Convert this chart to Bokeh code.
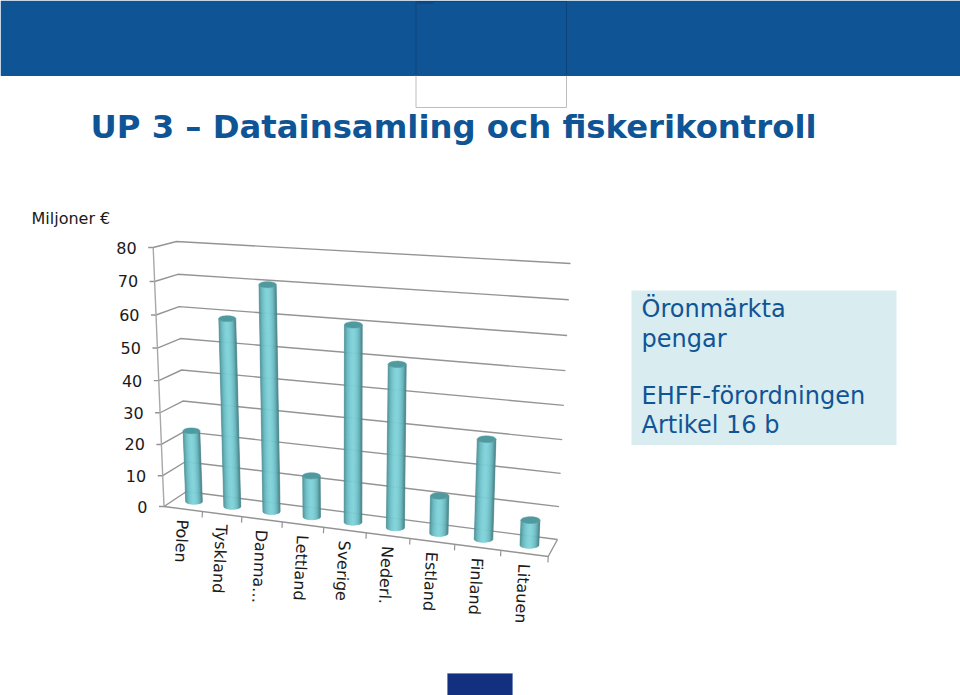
import numpy as np
from bokeh.plotting import figure
from bokeh.models import Range1d, Label
from bokeh.core.properties import value
from bokeh.embed import file_html
from bokeh.resources import INLINE

categories = ["Polen", "Tyskland", "Danma...", "Lettland", "Sverige", "Nederl.", "Estland", "Finland", "Litauen"]
values = [23, 59, 70, 13, 60, 49.5, 11.5, 30, 7.5]
tick_values = [0, 10, 20, 30, 40, 50, 60, 70, 80]
tick_labels = ["0", "10", "20", "30", "40", "50", "60", "70", "80"]
title_text = "UP 3 \u2013 Datainsamling och fiskerikontroll"
unit_text = "Miljoner \u20ac"
box_lines = ["\u00d6ronm\u00e4rkta", "pengar", "EHFF-f\u00f6rordningen", "Artikel 16 b"]

W, H = 960, 695
BLUE = "#0f5596"
FONT = value("DejaVu Sans")

p = figure(width=W, height=H, x_range=Range1d(0, W), y_range=Range1d(0, H),
           output_backend="svg", toolbar_location=None, min_border=0)
p.axis.visible = False
p.grid.visible = False
p.outline_line_color = None
p.styles = {"position": "absolute", "left": "0px", "top": "0px"}


def Y(y):
    return H - np.asarray(y, float)


FLOOR = np.array([[163.5, 506], [547.7, 556], [186, 491], [557, 539]], float)
TOP = np.array([[152.7, 247], [560, 271], [176, 241], [570, 263]], float)
VMAX = tick_values[-1]
N = len(categories)


def corner_mix(Q, c, d):
    t = c / N
    u = t / (t + (1 - t) * 1.124) if t > 0 else 0.0
    return ((1 - u) * (1 - d) * Q[0] + u * (1 - d) * Q[1] + (1 - u) * d * Q[2] + u * d * Q[3])


def proj(c, d, v):
    t = v / VMAX
    f = t / (t + (1 - t) * 1.0576)
    return (1 - f) * corner_mix(FLOOR, c, d) + f * corner_mix(TOP, c, d)


# backdrop
p.quad(left=0, right=W, top=Y(0), bottom=Y(75.5), fill_color=BLUE, line_color=None)
p.quad(left=631, right=896, top=Y(290), bottom=Y(444.5), fill_color="#d9ecf0", line_color=None)
p.quad(left=447, right=512, top=Y(673), bottom=Y(H), fill_color="#12307f", line_color="#5f7ab5", line_width=0.5)
p.line([415.5, 415.5, 566, 566], Y([75, 107, 107, 75]), line_color="#bdbdbd", line_width=1)
p.line([415.5, 415.5, 566, 566], Y([75, 1, 1, 75]), line_color="#0c4479", line_width=1)
p.line([417, 433], Y([2.5, 2.5]), line_color="#0c3f72", line_width=1)

# grid
GRID = "#949494"
for v in tick_values:
    a, b, c = proj(0, 0, v), proj(0, 1, v), proj(N, 1, v)
    p.line([a[0] - 5, a[0], b[0], c[0]], Y([a[1], a[1], b[1], c[1]]), line_color=GRID, line_width=1.4)
a, b = proj(0, 0, 0), proj(0, 0, VMAX)
p.line([a[0], b[0]], Y([a[1], b[1]]), line_color="#a8a8a8", line_width=1.4)
a, b, c = proj(0, 0, 0), proj(N, 0, 0), proj(N, 1, 0)
p.line([a[0], b[0], c[0]], Y([a[1], b[1], c[1]]), line_color=GRID, line_width=1.4)
for i in range(1, N + 1):
    a = proj(i, 0, 0)
    p.line([a[0], a[0] - 0.3], Y([a[1], a[1] + 6]), line_color=GRID, line_width=1.2)

# cylinders
STOPS = np.array([[0x4b, 0x8a, 0x90], [0x66, 0xb6, 0xbe], [0x78, 0xcb, 0xd3], [0x83, 0xd3, 0xda],
                  [0x78, 0xcb, 0xd3], [0x66, 0xb4, 0xbc], [0x46, 0x7e, 0x84]], float)
NS = 24
SHADES = []
for k in range(NS):
    q = (k + 0.5) / NS * (len(STOPS) - 1)
    lo = int(q)
    rgb = STOPS[lo] + (STOPS[lo + 1] - STOPS[lo]) * (q - lo)
    SHADES.append("#%02x%02x%02x" % tuple(int(round(x)) for x in rgb))
CAP = "#4f999f"
edges = np.arccos(np.linspace(-1, 1, NS + 1))
for i, val in enumerate(values):
    bot = proj(i + 0.5, 0.5, 0)
    top = proj(i + 0.5, 0.5, val)
    rx = 8.4 + 1.1 * i / (N - 1)
    ry = 2.9 + 0.5 * i / (N - 1)
    xs, ys = [], []
    for a0, a1 in zip(edges[:-1], edges[1:]):
        th = np.linspace(a0, a1, 4)
        dx, dy = rx * np.cos(th), ry * np.sin(th)
        xs.append(list(bot[0] + dx) + list((top[0] + dx)[::-1]))
        ys.append(list(Y(bot[1] + dy)) + list(Y(top[1] + dy)[::-1]))
    p.patches(xs, ys, fill_color=SHADES, line_color=SHADES, line_width=0.5)
    th = np.linspace(0, 2 * np.pi, 40)
    p.patch(top[0] + rx * np.cos(th), Y(top[1] + ry * np.sin(th)), fill_color=CAP, line_color=CAP, line_width=0.5)

# value labels
for v, lab in zip(tick_values, tick_labels):
    a = proj(0, 0, v)
    p.text([a[0] - 16.5], Y([a[1]]), text=[lab], text_font=FONT, text_font_size="16px",
           text_color="#1a1a1a", text_align="right", text_baseline="middle")

# category labels
for i, lab in enumerate(categories):
    a = proj(i + 0.5, 0, 0)
    shown = lab.replace("...", "\u2026")
    p.add_layout(Label(x=float(a[0] - 0.5), y=float(Y(a[1] + 10.5)), text=shown, angle=-93, angle_units="deg",
                       text_font="DejaVu Sans", text_font_size="16px", text_color="#1a1a1a",
                       text_align="left", text_baseline="middle"))


def top_text(x, y, txt, size, **kw):
    p.text([x], Y([y - 0.39 * size]), text=[txt], text_font=FONT, text_font_size=f"{size}px",
           text_align="left", text_baseline="alphabetic", **kw)


# texts
top_text(90, 139.5, title_text, 32.3, text_font_style="bold", text_color=BLUE)
top_text(31, 224, unit_text, 16, text_color="#1a1a1a")
for line, y in zip(box_lines, [318, 347.5, 405, 434]):
    top_text(641, y, line, 24, text_color=BLUE)

open("out.html", "w").write(file_html(p, INLINE))
